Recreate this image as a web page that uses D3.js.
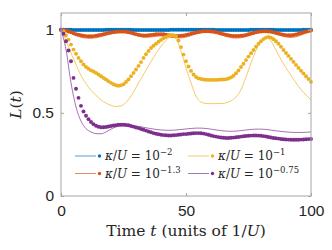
<!DOCTYPE html>
<html lang="en">

<head>
    <meta charset="UTF-8">
    <title>L(t)</title>
    <script src="https://cdn.jsdelivr.net/npm/d3@7"></script>
    <style>
        * {
            margin: 0;
        }

        body {
            background: #fff;
        }
    </style>
</head>

<body>
    <div id="chart"></div>
    <script>
        // time grids
        var tDots = d3.range(0, 101);       // markers every 1/U
        var tLine = d3.range(0, 101, 2);    // thin lines every 2/U

        var xTicks = [0, 50, 100];
        var yTicks = [0, 0.5, 1];
        var yTickLabels = ["0", "0.5", "1"];

        // kappa/U = 10^-2
        var blueDots = [1.000, 1.000, 0.999, 0.999, 0.999, 0.998, 0.998, 0.998, 0.998, 0.998,
            0.998, 0.998, 0.998, 0.998, 0.998, 0.998, 0.998, 0.998, 0.999, 0.999,
            0.999, 0.999, 0.999, 0.999, 0.999, 0.999, 0.999, 0.999, 0.999, 0.998,
            0.998, 0.998, 0.998, 0.998, 0.998, 0.998, 0.998, 0.998, 0.998, 0.998,
            0.998, 0.998, 0.998, 0.998, 0.999, 0.999, 0.999, 0.999, 0.999, 0.999,
            0.999, 0.999, 0.999, 0.999, 0.999, 0.999, 0.999, 0.999, 0.999, 0.999,
            0.999, 0.999, 0.998, 0.998, 0.998, 0.998, 0.998, 0.998, 0.998, 0.998,
            0.998, 0.998, 0.998, 0.998, 0.998, 0.998, 0.999, 0.999, 0.999, 0.999,
            0.999, 0.999, 0.999, 0.999, 0.999, 0.999, 0.998, 0.998, 0.998, 0.998,
            0.998, 0.998, 0.998, 0.998, 0.998, 0.998, 0.998, 0.999, 0.999, 0.999, 0.999];
        var blueLine = [1.000, 0.998, 0.997, 0.996, 0.996, 0.996, 0.996, 0.997, 0.997, 0.998,
            0.998, 0.998, 0.997, 0.996, 0.996, 0.996, 0.996, 0.996, 0.997, 0.997,
            0.998, 0.998, 0.998, 0.997, 0.996, 0.996, 0.996, 0.996, 0.997, 0.998,
            0.998, 0.998, 0.997, 0.996, 0.996, 0.996, 0.996, 0.997, 0.997, 0.998,
            0.998, 0.998, 0.997, 0.996, 0.996, 0.996, 0.996, 0.997, 0.998, 0.998, 0.998];

        // kappa/U = 10^-1.3
        var orangeDots = [1.000, 0.998, 0.994, 0.989, 0.984, 0.978, 0.973, 0.969, 0.966, 0.963,
            0.961, 0.960, 0.960, 0.961, 0.963, 0.966, 0.969, 0.973, 0.977, 0.980,
            0.983, 0.985, 0.987, 0.988, 0.988, 0.988, 0.987, 0.984, 0.981, 0.977,
            0.973, 0.969, 0.966, 0.965, 0.965, 0.966, 0.968, 0.970, 0.972, 0.973,
            0.973, 0.972, 0.970, 0.967, 0.965, 0.963, 0.962, 0.962, 0.963, 0.965,
            0.968, 0.971, 0.975, 0.979, 0.983, 0.986, 0.988, 0.990, 0.990, 0.990,
            0.989, 0.987, 0.984, 0.981, 0.977, 0.973, 0.969, 0.966, 0.964, 0.962,
            0.962, 0.962, 0.963, 0.965, 0.968, 0.972, 0.976, 0.980, 0.984, 0.987,
            0.989, 0.990, 0.990, 0.989, 0.987, 0.984, 0.980, 0.976, 0.972, 0.969,
            0.967, 0.966, 0.966, 0.968, 0.971, 0.975, 0.979, 0.984, 0.988, 0.992, 0.995];
        var orangeLine = [1.000, 0.992, 0.978, 0.964, 0.954, 0.949, 0.948, 0.951, 0.958, 0.966,
            0.974, 0.980, 0.983, 0.982, 0.975, 0.965, 0.957, 0.954, 0.956, 0.960,
            0.962, 0.960, 0.955, 0.951, 0.951, 0.955, 0.964, 0.974, 0.982, 0.986,
            0.985, 0.979, 0.969, 0.959, 0.952, 0.949, 0.951, 0.958, 0.968, 0.978,
            0.984, 0.986, 0.982, 0.974, 0.964, 0.956, 0.953, 0.957, 0.967, 0.979, 0.988];

        // kappa/U = 10^-1
        var yellowDots = [1.000, 0.990, 0.965, 0.940, 0.910, 0.880, 0.855, 0.830, 0.810, 0.790,
            0.775, 0.765, 0.755, 0.748, 0.740, 0.730, 0.720, 0.710, 0.700, 0.690,
            0.680, 0.672, 0.666, 0.663, 0.665, 0.672, 0.685, 0.700, 0.720, 0.740,
            0.760, 0.782, 0.805, 0.830, 0.852, 0.872, 0.890, 0.903, 0.915, 0.927,
            0.938, 0.948, 0.956, 0.962, 0.966, 0.967, 0.960, 0.935, 0.895, 0.850,
            0.810, 0.778, 0.752, 0.730, 0.715, 0.707, 0.703, 0.700, 0.699, 0.698,
            0.698, 0.698, 0.698, 0.699, 0.700, 0.700, 0.702, 0.706, 0.713, 0.723,
            0.738, 0.755, 0.775, 0.795, 0.817, 0.838, 0.858, 0.878, 0.897, 0.915,
            0.930, 0.943, 0.952, 0.956, 0.952, 0.942, 0.930, 0.915, 0.897, 0.878,
            0.860, 0.842, 0.824, 0.806, 0.788, 0.770, 0.753, 0.737, 0.720, 0.703, 0.686];
        var yellowLine = [1.000, 0.935, 0.860, 0.790, 0.725, 0.675, 0.635, 0.605, 0.578, 0.558,
            0.545, 0.538, 0.542, 0.562, 0.600, 0.652, 0.705, 0.757, 0.808, 0.857,
            0.900, 0.935, 0.958, 0.945, 0.870, 0.770, 0.680, 0.600, 0.565, 0.556,
            0.555, 0.555, 0.556, 0.560, 0.572, 0.595, 0.640, 0.715, 0.800, 0.875,
            0.930, 0.955, 0.930, 0.877, 0.820, 0.770, 0.725, 0.680, 0.640, 0.607, 0.577];

        // kappa/U = 10^-0.75
        var purpleDots = [1.000, 0.975, 0.930, 0.875, 0.810, 0.710, 0.645, 0.590, 0.542, 0.508,
            0.482, 0.462, 0.445, 0.432, 0.422, 0.416, 0.413, 0.413, 0.415, 0.418,
            0.421, 0.424, 0.426, 0.428, 0.428, 0.428, 0.427, 0.425, 0.421, 0.417,
            0.412, 0.408, 0.403, 0.398, 0.393, 0.388, 0.383, 0.378, 0.374, 0.371,
            0.368, 0.366, 0.365, 0.364, 0.364, 0.365, 0.366, 0.368, 0.370, 0.372,
            0.372, 0.374, 0.376, 0.377, 0.378, 0.378, 0.377, 0.375, 0.372, 0.368,
            0.364, 0.360, 0.357, 0.354, 0.352, 0.350, 0.349, 0.349, 0.350, 0.351,
            0.353, 0.355, 0.357, 0.359, 0.361, 0.362, 0.363, 0.364, 0.364, 0.363,
            0.362, 0.360, 0.358, 0.355, 0.352, 0.349, 0.347, 0.345, 0.343, 0.341,
            0.340, 0.339, 0.338, 0.338, 0.338, 0.338, 0.339, 0.340, 0.341, 0.342, 0.343];
        var purpleLine = [1.000, 0.880, 0.680, 0.535, 0.450, 0.405, 0.385, 0.375, 0.374, 0.385,
            0.402, 0.415, 0.422, 0.425, 0.424, 0.420, 0.416, 0.410, 0.405, 0.400,
            0.397, 0.395, 0.395, 0.397, 0.400, 0.403, 0.406, 0.408, 0.408, 0.406,
            0.402, 0.397, 0.393, 0.390, 0.389, 0.390, 0.393, 0.397, 0.400, 0.402,
            0.402, 0.400, 0.396, 0.392, 0.388, 0.385, 0.383, 0.382, 0.382, 0.383, 0.385];

        var colors = ["#0072BD", "#D95319", "#EDB120", "#7E2F8E"];
        var exponents = ["\u22122", "\u22121.3", "\u22121", "\u22120.75"];

        var series = [
            { dots: blueDots, line: blueLine },
            { dots: orangeDots, line: orangeLine },
            { dots: yellowDots, line: yellowLine },
            { dots: purpleDots, line: purpleLine }
        ];

        var W = 332, H = 250;
        var margin = { top: 13, right: 21, bottom: 54, left: 61 };
        var w = W - margin.left - margin.right;
        var h = H - margin.top - margin.bottom;

        var svg = d3.select("#chart").append("svg")
            .attr("width", W)
            .attr("height", H);

        var g = svg.append("g")
            .attr("transform", "translate(" + margin.left + "," + margin.top + ")");

        var x = d3.scaleLinear().domain([0, 100]).range([0, w]);
        var y = d3.scaleLinear().domain([0, 1.1]).range([h, 0]);

        var axisColor = "#a6a6a6";
        var labelFont = "'Liberation Sans', Arial, sans-serif";
        var mathFont = "'DejaVu Serif', 'Liberation Serif', serif";

        // thin curves drawn under the markers
        var line = d3.line()
            .x(function (d, i) { return x(tLine[i]); })
            .y(function (d) { return y(d); })
            .curve(d3.curveMonotoneX);

        series.forEach(function (s, k) {
            g.append("path")
                .attr("d", line(s.line))
                .attr("fill", "none")
                .attr("stroke", colors[k])
                .attr("stroke-opacity", 0.75)
                .attr("stroke-width", 0.9);

            g.append("g").selectAll("circle")
                .data(s.dots)
                .enter()
                .append("circle")
                .attr("cx", function (d, i) { return x(tDots[i]); })
                .attr("cy", function (d) { return y(d); })
                .attr("r", 1.95)
                .attr("fill", colors[k]);
        });

        // axes, ticks inward, box
        g.append("g")
            .attr("transform", "translate(0," + h + ")")
            .call(d3.axisBottom(x).tickValues(xTicks).tickSize(-3).tickPadding(9));
        g.append("g")
            .call(d3.axisLeft(y).tickValues(yTicks).tickSize(-3).tickPadding(7)
                .tickFormat(function (d, i) { return yTickLabels[i]; }));
        g.append("g")
            .call(d3.axisTop(x).tickValues(xTicks).tickSize(-3).tickFormat(""));
        g.append("g")
            .attr("transform", "translate(" + w + ",0)")
            .call(d3.axisRight(y).tickValues(yTicks).tickSize(-3).tickFormat(""));

        g.selectAll(".tick line").attr("stroke", axisColor);
        g.selectAll(".domain").remove();
        g.append("rect")
            .attr("width", w)
            .attr("height", h)
            .attr("fill", "none")
            .attr("stroke", axisColor)
            .attr("stroke-width", 1);

        g.selectAll(".tick text")
            .attr("font-family", labelFont)
            .attr("font-size", 15.5)
            .attr("fill", "#262626");

        // legend
        var legend = g.append("g");
        var legendPos = [[14, 143], [14, 160.5], [127, 143], [127, 160.5]];
        series.forEach(function (s, k) {
            var p = legendPos[k];
            var row = legend.append("g").attr("transform", "translate(" + p[0] + "," + p[1] + ")");
            row.append("line")
                .attr("x1", 0).attr("x2", 21)
                .attr("stroke", colors[k]).attr("stroke-opacity", 0.75).attr("stroke-width", 0.9);
            row.append("circle")
                .attr("cx", 24.5).attr("r", 1.7).attr("fill", colors[k]);
            var tx = row.append("text")
                .attr("x", 30)
                .attr("y", 4)
                .attr("font-family", mathFont)
                .attr("font-size", 12)
                .attr("fill", "#262626");
            tx.append("tspan").attr("font-style", "italic").text("\u03ba");
            tx.append("tspan").text("/");
            tx.append("tspan").attr("font-style", "italic").text("U");
            tx.append("tspan").text(" = 10");
            tx.append("tspan").attr("dy", -5).attr("font-size", 8.5).text(exponents[k]);
        });

        // axis labels
        var xl = svg.append("text")
            .attr("x", margin.left + w / 2)
            .attr("y", 236)
            .attr("text-anchor", "middle")
            .attr("font-family", mathFont)
            .attr("font-size", 15.5)
            .attr("fill", "#262626");
        xl.append("tspan").text("Time ");
        xl.append("tspan").attr("font-style", "italic").text("t");
        xl.append("tspan").text(" (units of 1/");
        xl.append("tspan").attr("font-style", "italic").text("U");
        xl.append("tspan").text(")");

        var yl = svg.append("text")
            .attr("transform", "translate(21," + (margin.top + h / 2) + ") rotate(-90)")
            .attr("text-anchor", "middle")
            .attr("font-family", mathFont)
            .attr("font-size", 15.5)
            .attr("fill", "#262626");
        yl.append("tspan").attr("font-style", "italic").text("L");
        yl.append("tspan").text("(");
        yl.append("tspan").attr("font-style", "italic").text("t");
        yl.append("tspan").text(")");
    </script>
</body>

</html>
